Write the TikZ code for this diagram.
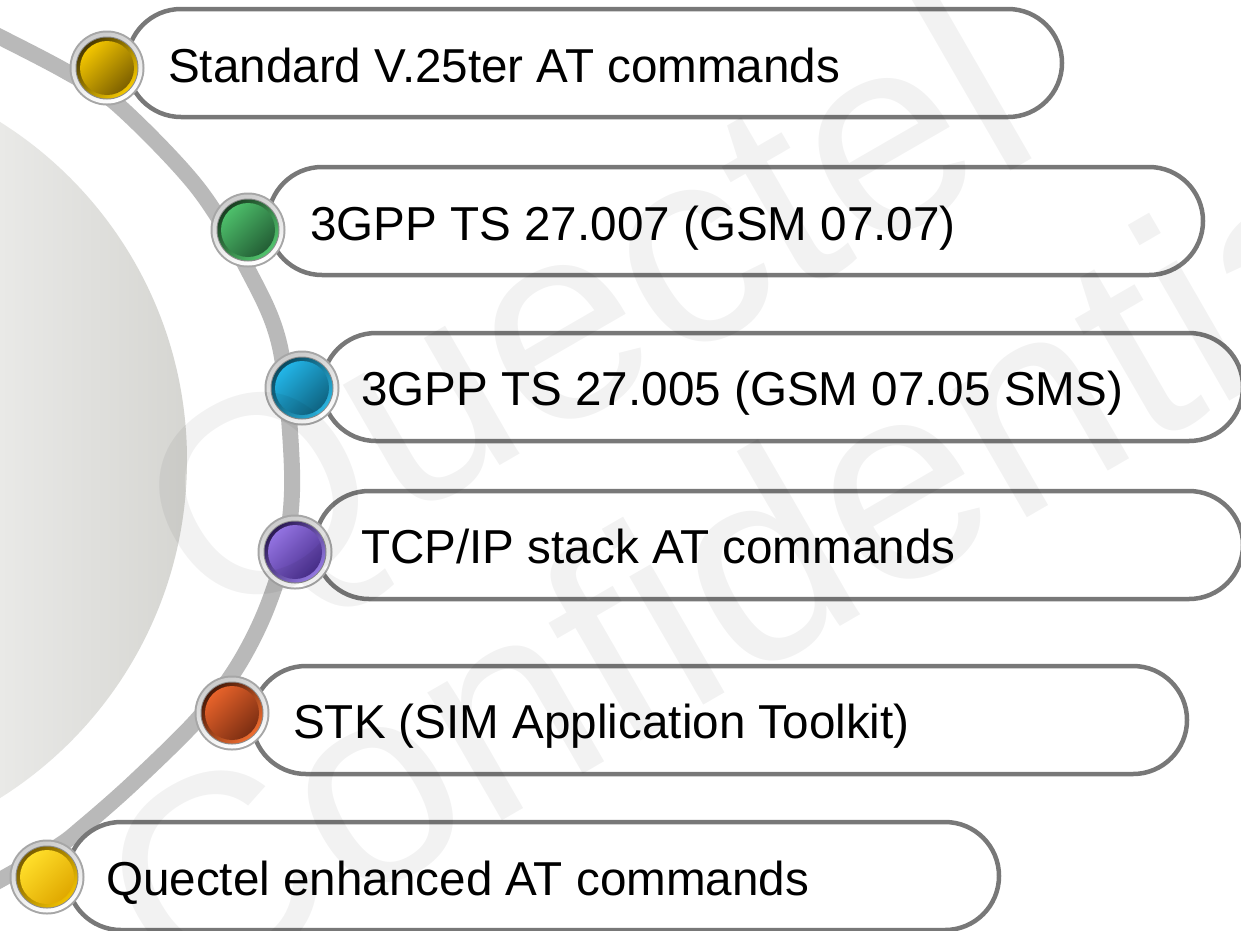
\documentclass[tikz,border=0pt]{standalone}
\usepackage{fontspec}
\setmainfont{Liberation Sans}
\usetikzlibrary{fadings}
\definecolor{boxline}{HTML}{787878}
\definecolor{diskL}{HTML}{E9E9E7}
\definecolor{diskR}{HTML}{D5D5D1}
\definecolor{bandL}{HTML}{B9B9B9}
\definecolor{bandD}{HTML}{777777}
\definecolor{ringedge}{HTML}{A6A6A6}
\definecolor{ringtop}{HTML}{CCCCCC}
\definecolor{ringline}{HTML}{8C8C8C}
% bullet colours
\definecolor{aL}{HTML}{F2C500}\definecolor{aD}{HTML}{7D6000}\definecolor{aT}{HTML}{4A3A00}\definecolor{aB}{HTML}{F5C800}
\definecolor{bL}{HTML}{4DBE6A}\definecolor{bD}{HTML}{235E35}\definecolor{bT}{HTML}{1A3F22}\definecolor{bB}{HTML}{52C56E}
\definecolor{cL}{HTML}{22B4E6}\definecolor{cD}{HTML}{0F6482}\definecolor{cT}{HTML}{0B4A60}\definecolor{cB}{HTML}{2AB4E0}
\definecolor{dL}{HTML}{9272E0}\definecolor{dD}{HTML}{4B3090}\definecolor{dT}{HTML}{2C1A55}\definecolor{dB}{HTML}{9C80EE}
\definecolor{eL}{HTML}{E6622A}\definecolor{eD}{HTML}{7C2E12}\definecolor{eT}{HTML}{4A1A08}\definecolor{eB}{HTML}{F06E30}
\definecolor{fL}{HTML}{FFDE2A}\definecolor{fD}{HTML}{E0A800}\definecolor{fT}{HTML}{7A5E00}\definecolor{fB}{HTML}{F0C000}
\tikzfading[name=midfade, top color=transparent!100, middle color=transparent!0, bottom color=transparent!100]
\tikzset{
  pill/.style={draw=boxline, line width=4.5pt, fill=white, rounded corners=54pt,
    minimum height=108pt, inner sep=0pt, outer sep=0pt, anchor=west},
  lbl/.style={font=\fontsize{47.6}{57}\selectfont, inner sep=0pt, anchor=base west, text=black},
  wmark/.style={font=\fontsize{280}{300}\selectfont, inner sep=0pt, anchor=base west,
    text=black, text opacity=0.05, rotate=30},
  bulletnode/.style={circle, minimum size=75pt, inner sep=0pt, outer sep=0pt, fill=ringedge},
}
\newcommand\drawbullet[6]{%
  \node[bulletnode] (#1) at (#2) {};
  \shade[top color=ringtop, bottom color=white, shading angle=20] (#1.center) circle[radius=35.5pt];
  \fill[ringline] (#1.center) circle[radius=31.5pt];
  \shade[top color=#5, bottom color=#6, shading angle=45] (#1.center) circle[radius=30.5pt];
  \shade[top color=#3, bottom color=#4, shading angle=45] (#1.center) circle[radius=27pt];
}
\def\bandpts{(-25,25) (0,37) (67,72) (118,105) (197,187) (248,270) (280,347) (292,470) (286,545) (266,610) (237,667) (197,720) (133,783) (83,827) (57,847) (0,880) (-25,893)}
\begin{document}
\begin{tikzpicture}[x=1pt,y=-1pt]
\useasboundingbox (0,0) rectangle (1241,930);
\clip (0,0) rectangle (1241,930);
\fill[white] (0,0) rectangle (1241,930);
% large grey disk
\begin{scope}
  \clip (-212,460) circle[radius=399pt];
  \shade[left color=diskL, right color=diskR] (0,40) rectangle (190,880);
\end{scope}
% arc band
\draw[line width=16pt, bandL] plot[smooth, tension=0.55] coordinates {\bandpts};
\draw[line width=16pt, bandD, path fading=midfade] plot[smooth, tension=0.55] coordinates {\bandpts};
% boxes
\node[pill, minimum width=935pt] (box1) at (127,63) {};
\node[pill, minimum width=935pt] (box2) at (268,221) {};
\node[pill, minimum width=921pt] (box3) at (322,387) {};
\node[pill, minimum width=928pt] (box4) at (315,545) {};
\node[pill, minimum width=935pt] (box5) at (252,720) {};
\node[pill, minimum width=932pt] (box6) at (67,876) {};
% bullets
\drawbullet{bul1}{107,68}{aL}{aD}{aT}{aB}
\drawbullet{bul2}{248,230}{bL}{bD}{bT}{bB}
\drawbullet{bul3}{302,388}{cL}{cD}{cT}{cB}
\drawbullet{bul4}{295,552}{dL}{dD}{dT}{dB}
\drawbullet{bul5}{232,713}{eL}{eD}{eT}{eB}
\drawbullet{bul6}{47,877}{fL}{fD}{fT}{fB}
% labels
\node[lbl] (t1) at (168,82) {Standard V.25ter AT commands};
\node[lbl] (t2) at (310,240) {3GPP TS 27.007 (GSM 07.07)};
\node[lbl] (t3) at (361,405) {3GPP TS 27.005 (GSM 07.05 SMS)};
\node[lbl] (t4) at (361,563) {TCP/IP stack AT commands};
\node[lbl] (t5) at (293,738) {STK (SIM Application Toolkit)};
\node[lbl] (t6) at (106,895) {Quectel enhanced AT commands};
% watermark
\node[wmark] (wm1) at (213,632) {Quectel};
\node[wmark] (wm2) at (175,1010) {Confidential};
\end{tikzpicture}
\end{document}
